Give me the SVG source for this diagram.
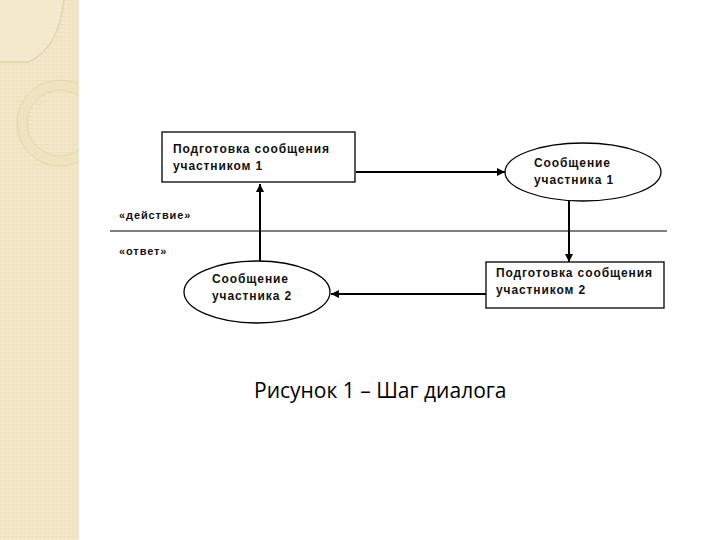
<svg xmlns="http://www.w3.org/2000/svg" width="720" height="540" viewBox="0 0 720 540">
<defs>
<style>
.node{fill:#fff;stroke:#000;stroke-width:1.3}
.t{font-family:"Liberation Sans",Arial,sans-serif;font-weight:bold;font-size:12px;letter-spacing:0.9px;fill:#111}
.lbl{font-family:"Liberation Sans",Arial,sans-serif;font-weight:bold;font-size:11px;letter-spacing:0.9px;fill:#111}
.edge{stroke:#000;stroke-width:2;fill:none;marker-end:url(#ah)}
.cap{font-family:"Open Sans","Noto Sans",sans-serif;font-size:21px;fill:#000}
</style>
<marker id="ah" viewBox="0 0 10 10" refX="10" refY="5" markerWidth="4" markerHeight="4" orient="auto" markerUnits="strokeWidth">
<path d="M0,0 L10,5 L0,10 z" fill="#000"/>
</marker>
<pattern id="stripes" width="4" height="4" patternUnits="userSpaceOnUse">
<rect width="4" height="4" fill="#f3e7c7"/>
<rect y="0" width="4" height="1" fill="#ece0bf"/>
<rect x="0" width="1" height="4" fill="#efe3c3"/>
</pattern>
<clipPath id="strip"><rect x="0" y="0" width="79" height="540"/></clipPath>
</defs>
<rect width="720" height="540" fill="#fff"/>
<g id="background" clip-path="url(#strip)">
<rect x="0" y="0" width="79" height="540" fill="url(#stripes)"/>
<path d="M0,0 L62,0 Q60,48 28,62 L0,62 z" fill="#f5ecd3" opacity="0.6"/>
<path d="M0,62 L28,62 Q58,50 64,0" fill="none" stroke="#e4d5ad" stroke-width="1.5"/>
<circle cx="60" cy="123" r="38" fill="none" stroke="#efe4c0" stroke-width="10"/>
<circle cx="60" cy="123" r="43" fill="none" stroke="#e4d6ae" stroke-width="1"/>
<circle cx="60" cy="123" r="33" fill="none" stroke="#e4d6ae" stroke-width="1"/>
</g>
<g id="connectors">
<line class="edge" x1="356" y1="172" x2="505" y2="172"/>
<line class="edge" x1="569" y1="201" x2="569" y2="262"/>
<line class="edge" x1="486" y1="294" x2="331" y2="294"/>
<line class="edge" x1="260" y1="262" x2="260" y2="184"/>
</g>
<g id="divider">
<line x1="110" y1="231" x2="667" y2="231" stroke="#000" stroke-width="1"/>
<text class="lbl" x="119" y="219">«действие»</text>
<text class="lbl" x="119" y="255">«ответ»</text>
</g>
<g id="node-prep1">
<rect class="node" x="162" y="132" width="193" height="50"/>
<text class="t" x="173" y="153">Подготовка сообщения</text>
<text class="t" x="173" y="170">участником 1</text>
</g>
<g id="node-msg1">
<ellipse class="node" cx="583" cy="172" rx="78" ry="29"/>
<text class="t" x="534" y="167">Сообщение</text>
<text class="t" x="534" y="184">участника 1</text>
</g>
<g id="node-prep2">
<rect class="node" x="486" y="262" width="178" height="46"/>
<text class="t" x="496" y="277">Подготовка сообщения</text>
<text class="t" x="496" y="294">участником 2</text>
</g>
<g id="node-msg2">
<ellipse class="node" cx="257" cy="292" rx="73" ry="31"/>
<text class="t" x="212" y="283">Сообщение</text>
<text class="t" x="212" y="300">участника 2</text>
</g>
<text class="cap" x="254" y="398">Рисунок 1 – Шаг диалога</text>
</svg>
